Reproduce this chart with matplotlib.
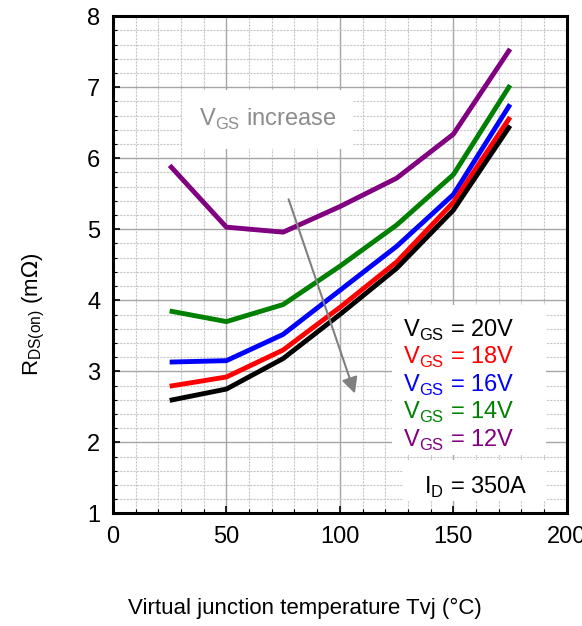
import matplotlib
matplotlib.use('Agg')
import matplotlib.pyplot as plt
from matplotlib.ticker import MultipleLocator

plt.rcParams['font.family'] = ['Liberation Sans', 'DejaVu Sans']

temp = [25, 50, 75, 100, 125, 150, 175]
r_20v = [2.59, 2.75, 3.18, 3.80, 4.45, 5.27, 6.46]
r_18v = [2.79, 2.92, 3.30, 3.90, 4.54, 5.38, 6.58]
r_16v = [3.13, 3.15, 3.52, 4.14, 4.76, 5.49, 6.76]
r_14v = [3.85, 3.70, 3.94, 4.48, 5.06, 5.77, 7.03]
r_12v = [5.90, 5.03, 4.96, 5.32, 5.72, 6.34, 7.54]
series = [(r_20v, 'black', '20V'), (r_18v, '#ff0000', '18V'), (r_16v, '#0000ff', '16V'),
          (r_14v, '#008000', '14V'), (r_12v, '#800080', '12V')]

fig = plt.figure(figsize=(5.82, 6.26), dpi=100)
ax = fig.add_axes([0.194, 0.180, 0.780, 0.794])

ax.set_xlim(0, 200)
ax.set_ylim(1, 8)
ax.xaxis.set_major_locator(MultipleLocator(50))
ax.xaxis.set_minor_locator(MultipleLocator(10))
ax.yaxis.set_major_locator(MultipleLocator(1))
ax.yaxis.set_minor_locator(MultipleLocator(0.2))
ax.grid(which='major', color='#a6a6a6', lw=1.0, ls='-')
ax.grid(which='minor', color='#c8c8c8', lw=0.8, ls=(0, (2, 1)))
ax.set_axisbelow(True)
ax.tick_params(which='both', direction='in', labelsize=17, pad=9)
ax.tick_params(which='major', length=5, width=1.2)
ax.tick_params(which='minor', length=3, width=0.8)
for s in ax.spines.values():
    s.set_linewidth(2.2)

for vals, c, lab in series[::-1]:
    ax.plot(temp, vals, color=c, lw=3.5, solid_capstyle='butt', zorder=3)

ax.text(68, 6.55, r'V$_{\mathregular{GS}}$ increase', color='#8c8c8c', fontsize=17,
        ha='center', va='center', zorder=4,
        bbox=dict(facecolor='white', edgecolor='none', pad=12))
ax.annotate('', xy=(107, 2.65), xytext=(77, 5.46),
            arrowprops=dict(arrowstyle='-|>', color='#808080', lw=1.5, mutation_scale=24),
            zorder=4)

# label boxes
ax.fill_between([123, 191], 1.82, 3.93, color='white', zorder=4, lw=0)
ax.fill_between([128, 191], 1.18, 1.75, color='white', zorder=4, lw=0)
for i, (vals, c, lab) in enumerate(series):
    ax.text(128, 3.58 - i * 0.388, r'V$_{\mathregular{GS}}$' + ' = ' + lab, color=c,
            fontsize=17, va='center', ha='left', zorder=5)
ax.text(137, 1.36, r'I$_{\mathregular{D}}$' + ' = 350A', color='black', fontsize=17,
        va='center', ha='left', zorder=5)

ax.set_xlabel('Virtual junction temperature Tvj (°C)', fontsize=16)
ax.xaxis.set_label_coords(0.423, -0.17)
ax.set_ylabel(r'R$_{\mathregular{DS(on)}}$ (m$\Omega$)', fontsize=16)
ax.yaxis.set_label_coords(-0.145, 0.40)

fig.savefig('out.png', dpi=100)
